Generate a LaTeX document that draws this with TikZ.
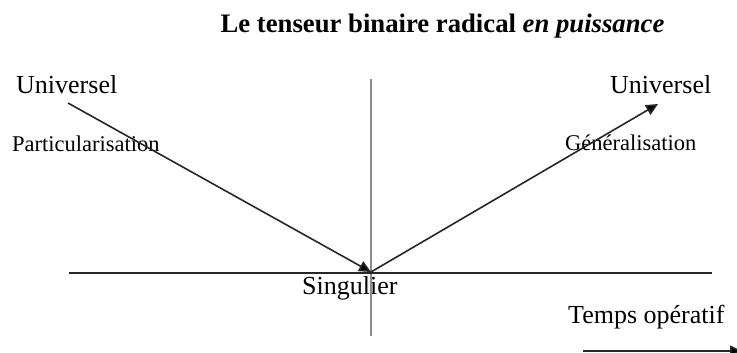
\documentclass[tikz,border=0pt]{standalone}
\usepackage{fontspec}
\setmainfont{Liberation Serif}
\usetikzlibrary{arrows.meta}
\begin{document}
\begin{tikzpicture}[x=1pt,y=-1pt,
  lbl/.style={anchor=base west,inner sep=0pt,font=\fontsize{26}{30}\selectfont},
  sublbl/.style={anchor=base west,inner sep=0pt,font=\fontsize{22.5}{26}\selectfont},
  ln/.style={line width=1.6pt,draw=black!85},
  arr/.style={ln,-{Triangle[length=12pt,width=11pt,fill=black]}},
  axis/.style={line width=1.7pt,draw=black!45}]
\useasboundingbox (0,0) rectangle (737,353);
\node[anchor=base,inner sep=0pt,font=\fontsize{26.7}{30}\selectfont\bfseries] (title) at (442.5,33) {Le tenseur binaire radical \textit{en puissance}};
\node[lbl] (uL) at (16,93) {Universel};
\node[sublbl] (part) at (12,151) {Particularisation};
\node[lbl] (uR) at (610,93) {Universel};
\node[sublbl] (gen) at (565,150) {Généralisation};
\node[lbl] (sing) at (302,294) {Singulier};
\node[lbl] (temps) at (568,323) {Temps opératif};
\coordinate (vT) at (371,79);
\coordinate (vB) at (371,336);
\coordinate (hL) at (69,273);
\coordinate (hR) at (712,273);
\coordinate (aL) at (68,103);
\coordinate (mid) at (371,272);
\coordinate (aR) at (658,104);
\coordinate (tA) at (583,351);
\coordinate (tB) at (742,351);
\draw[axis] (vT) -- (vB);
\draw[ln] (hL) -- (hR);
\draw[arr] (aL) -- (mid);
\draw[arr] (mid) -- (aR);
\draw[arr] (tA) -- (tB);
\end{tikzpicture}
\end{document}
